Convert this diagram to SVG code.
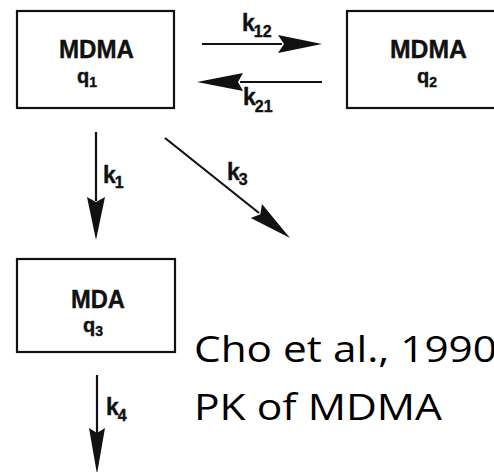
<svg xmlns="http://www.w3.org/2000/svg" width="494" height="472" viewBox="0 0 494 472">
<style>
.box{fill:#fff;stroke:#111;stroke-width:2.2}
.lbl{font-family:"Liberation Sans",Arial,sans-serif;font-weight:bold;fill:#111;stroke:#111;stroke-width:0.4}
.big{font-size:26px}
.q{font-size:20px}
.sub{font-size:14px}
.k{font-size:23px}
.ks{font-size:16px}
.ln{stroke:#111;stroke-width:2.2;fill:none}
.hd{fill:#111;stroke:none}
.cap{font-family:"Open Sans","DejaVu Sans",sans-serif;font-size:37px;fill:#000}
</style>
<rect width="494" height="472" fill="#fff"/>
<g id="node-q1">
<rect class="box" x="17" y="11" width="157" height="97"/>
<text class="lbl big" x="96.5" y="58" text-anchor="middle" textLength="75" lengthAdjust="spacingAndGlyphs">MDMA</text>
<text class="lbl q" x="77" y="83">q<tspan class="sub" dy="4">1</tspan></text>
</g>
<g id="node-q2">
<rect class="box" x="347" y="11" width="160" height="97"/>
<text class="lbl big" x="428.5" y="58" text-anchor="middle" textLength="77" lengthAdjust="spacingAndGlyphs">MDMA</text>
<text class="lbl q" x="417" y="83">q<tspan class="sub" dy="4">2</tspan></text>
</g>
<g id="node-q3">
<rect class="box" x="17" y="259" width="158" height="93"/>
<text class="lbl big" x="98" y="308" text-anchor="middle" textLength="54" lengthAdjust="spacingAndGlyphs">MDA</text>
<text class="lbl q" x="83" y="332">q<tspan class="sub" dy="4">3</tspan></text>
</g>
<g id="connectors">
<line class="ln" x1="202" y1="44" x2="282" y2="44"/>
<polygon class="hd" points="322,44 278,35 284,44 278,53"/>
<line class="ln" x1="322" y1="82" x2="240" y2="82"/>
<polygon class="hd" points="197,82 243,73 238,82 243,91"/>
<line class="ln" x1="96" y1="132" x2="96" y2="201"/>
<polygon class="hd" points="96,240 87,197 96,202 105,197"/>
<line class="ln" x1="165" y1="138" x2="259" y2="213"/>
<polygon class="hd" points="290,238 250.8,218.1 260.3,214.3 262,204.1"/>
<line class="ln" x1="97" y1="375" x2="97" y2="433"/>
<polygon class="hd" points="97,474 89,428 97,433 105,428"/>
</g>
<g id="edge-labels">
<text class="lbl k" x="242" y="31">k<tspan class="ks" dx="-1" dy="6">12</tspan></text>
<text class="lbl k" x="243" y="105">k<tspan class="ks" dx="-1" dy="7">21</tspan></text>
<text class="lbl k" x="103" y="183">k<tspan class="ks" dx="-1" dy="5">1</tspan></text>
<text class="lbl k" x="227" y="180">k<tspan class="ks" dx="-1" dy="5">3</tspan></text>
<text class="lbl k" x="106" y="415">k<tspan class="ks" dx="-1" dy="6">4</tspan></text>
</g>
<g id="caption">
<text class="cap" x="194" y="362" textLength="303" lengthAdjust="spacingAndGlyphs">Cho et al., 1990</text>
<text class="cap" x="194" y="420" textLength="248" lengthAdjust="spacingAndGlyphs">PK of MDMA</text>
</g>
</svg>
